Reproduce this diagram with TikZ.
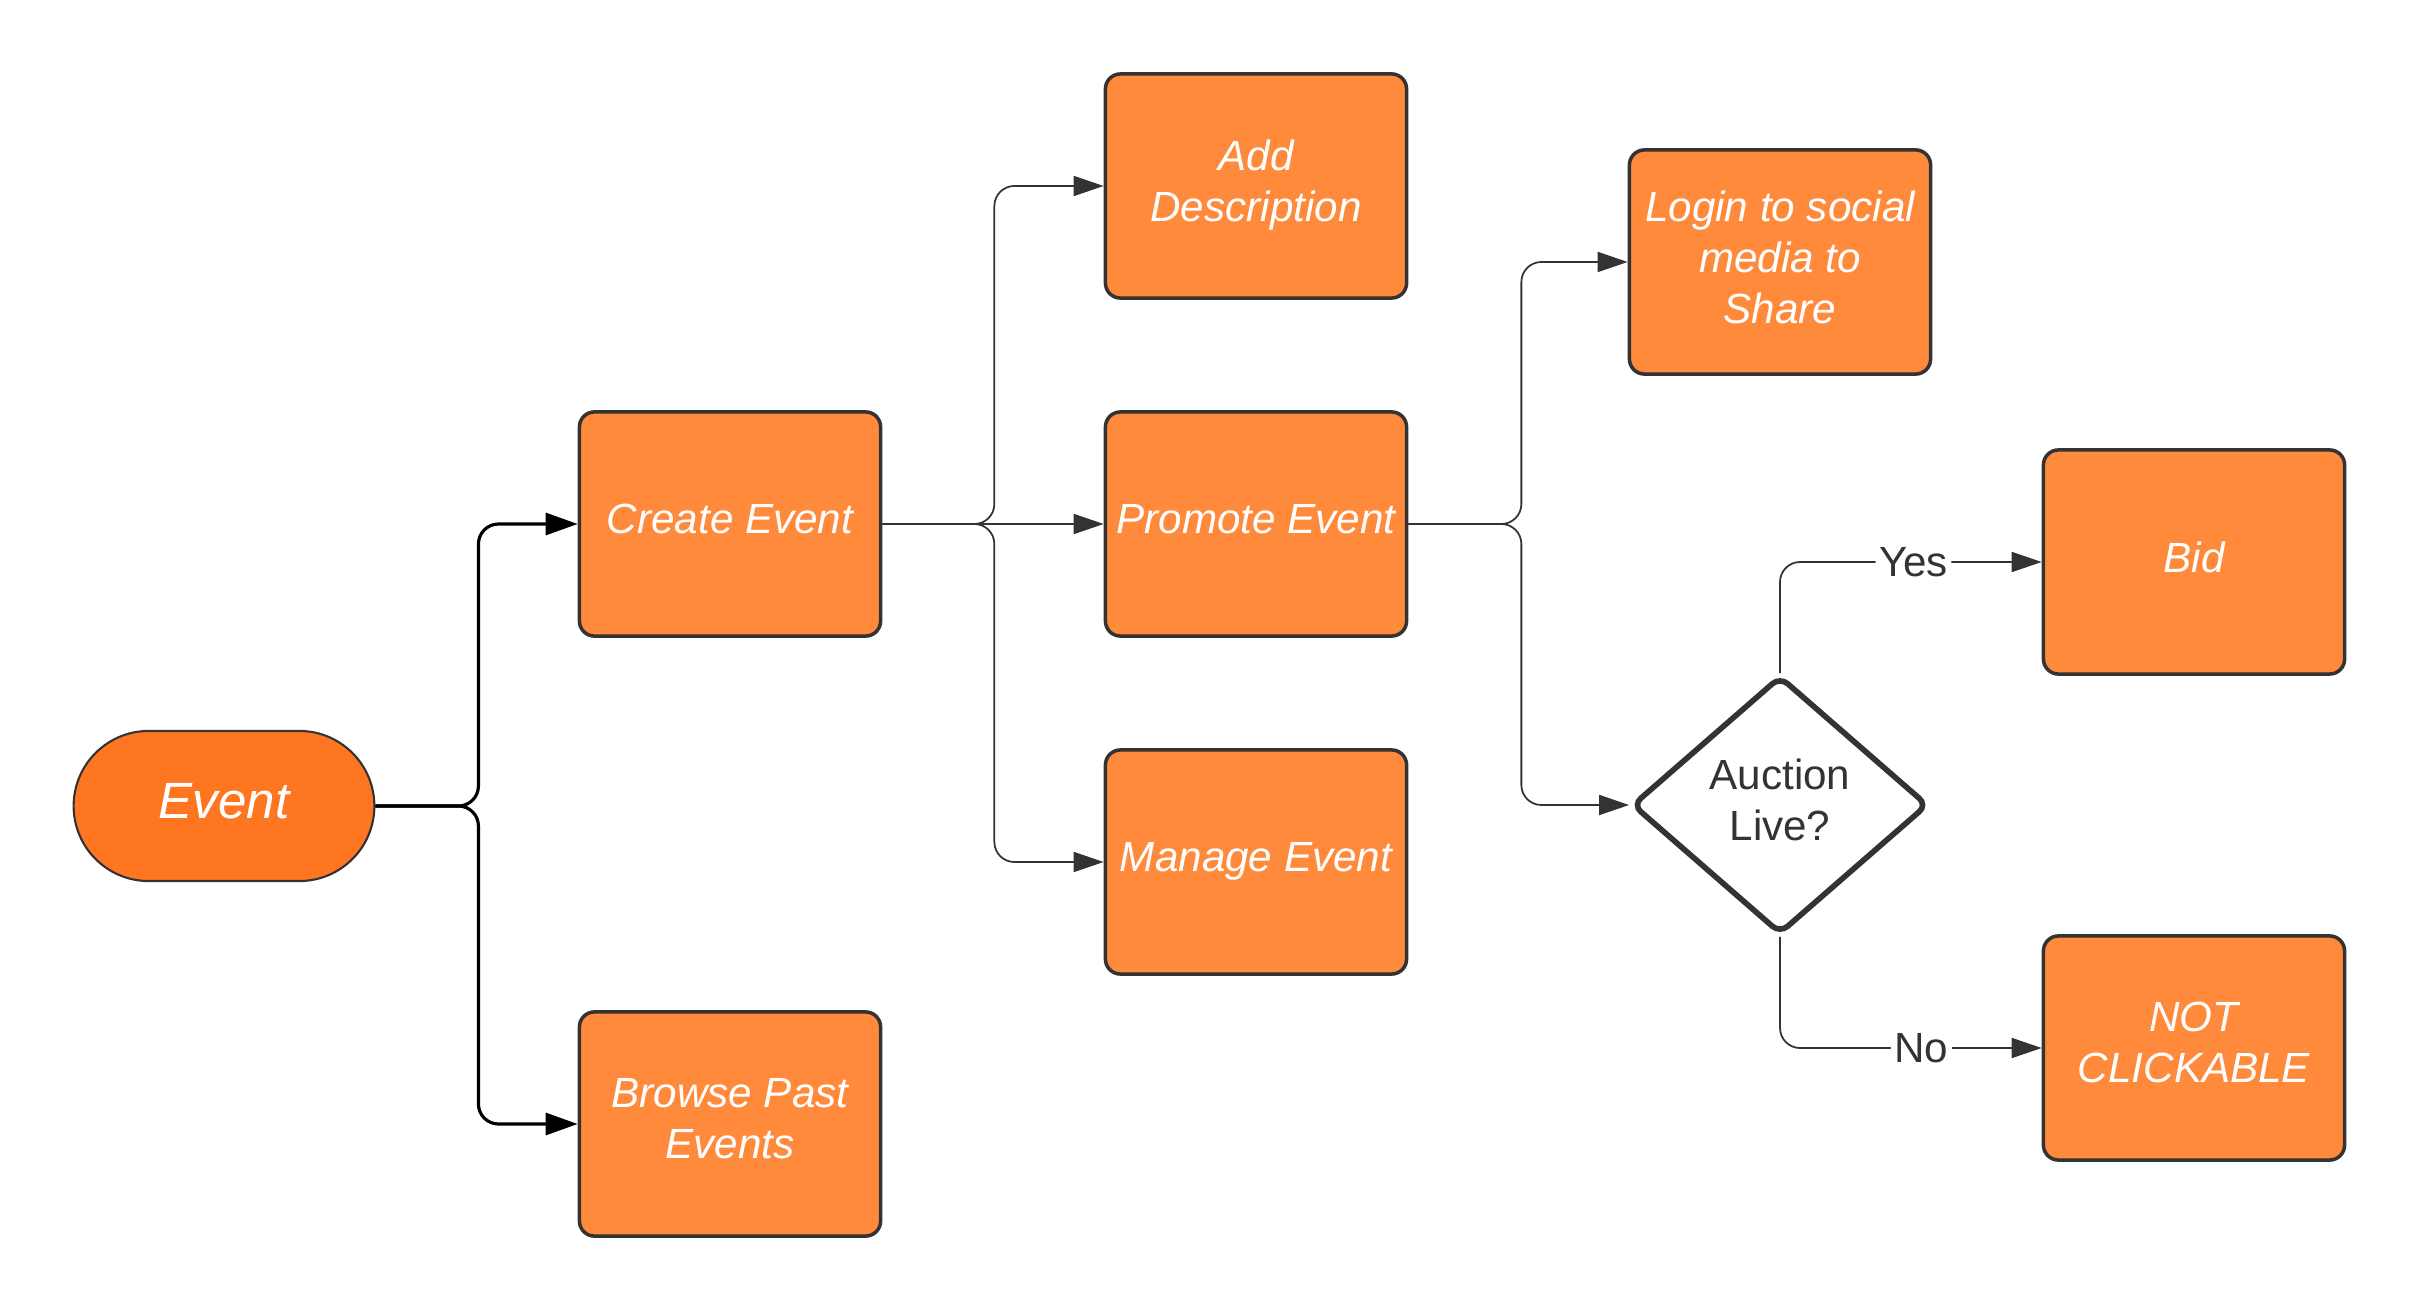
\documentclass[tikz,border=0pt]{standalone}
\usepackage{fontspec}
\setmainfont{Liberation Sans}
\usetikzlibrary{
    arrows.meta,
    shapes.geometric,
    shapes.misc
}
\definecolor{boxorange}{HTML}{FF8A3B}
\definecolor{eventorange}{HTML}{FF7621}
\definecolor{edgegray}{HTML}{333333}
\tikzset{
    stepbox/.style={rectangle, rounded corners=0.15cm, draw=edgegray, line width=1pt,
        fill=boxorange, minimum width=3.01cm, minimum height=2.24cm, inner sep=2pt,
        text depth=0.3em, text=white, align=center, font=\itshape\fontsize{12}{14.5}\selectfont},
    startbox/.style={rounded rectangle, draw=edgegray, line width=0.6pt, fill=eventorange,
        minimum width=3.24cm, minimum height=1.5cm, text depth=0.3em, text=white,
        font=\itshape\fontsize{14.5}{17}\selectfont},
    askbox/.style={diamond, draw=edgegray, line width=1.6pt, fill=white, rounded corners=0.1cm,
        minimum width=2.96cm, minimum height=2.58cm, inner sep=0pt, text depth=0.3em,
        text=edgegray, align=center, font=\fontsize{12}{14.5}\selectfont},
    mainlink/.style={draw=black, line width=0.9pt, rounded corners=0.2cm,
        -{Triangle[length=0.32cm,width=0.22cm]}},
    sublink/.style={draw=edgegray, line width=0.5pt, rounded corners=0.2cm,
        -{Triangle[length=0.3cm,width=0.2cm,fill=edgegray]}},
    answer/.style={fill=white, inner sep=1pt, text=edgegray, font=\fontsize{12}{14.5}\selectfont}
}

\begin{document}
\begin{tikzpicture}[x=0.01cm, y=-0.01cm]
    \useasboundingbox (0,0) rectangle (2419,1313);

    \draw (224,806)   node[startbox](event){Event};
    \draw (730,524)   node[stepbox](create){Create Event};
    \draw (730,1124)  node[stepbox](browse){Browse Past\\Events};
    \draw (1256,186)  node[stepbox](describe){Add\\Description};
    \draw (1256,524)  node[stepbox](promote){Promote Event};
    \draw (1256,862)  node[stepbox](manage){Manage Event};
    \draw (1780,262)  node[stepbox](share){Login to social\\media to\\Share};
    \draw (1780,805)  node[askbox](live){Auction\\Live?};
    \draw (2194,562)  node[stepbox](bid){Bid};
    \draw (2194,1048) node[stepbox](closed){NOT\\CLICKABLE};

    \draw[mainlink] (event.east) -- ++(103,0) |- (create.west);
    \draw[mainlink] (event.east) -- ++(103,0) |- (browse.west);

    \draw[sublink] (create.east) -- ++(112,0) |- (describe.west);
    \draw[sublink] (create.east) -- (promote.west);
    \draw[sublink] (create.east) -- ++(112,0) |- (manage.west);

    \draw[sublink] (promote.east) -- ++(113,0) |- (share.west);
    \draw[sublink] (promote.east) -- ++(113,0) |- (live.west);

    \draw[sublink] (live.north) |- node[answer, pos=0.755]{Yes} (bid.west);
    \draw[sublink] (live.south) |- node[answer, pos=0.77]{No} (closed.west);
\end{tikzpicture}
\end{document}
